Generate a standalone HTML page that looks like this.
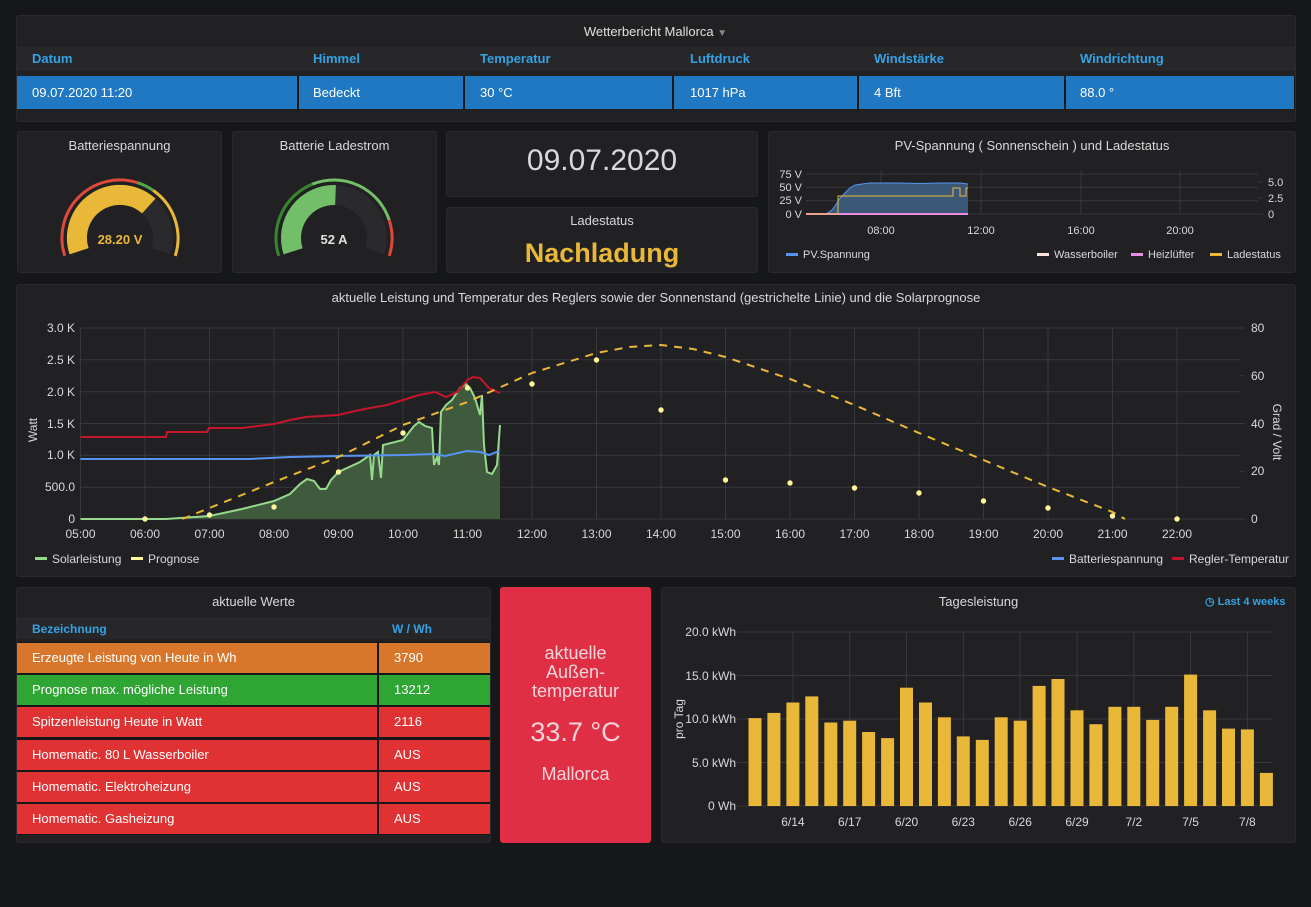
<!DOCTYPE html>
<html><head><meta charset="utf-8"><style>
*{margin:0;padding:0;box-sizing:border-box}
body{width:1311px;height:907px;background:#161719;font-family:"Liberation Sans",sans-serif;color:#d8d9da;position:relative;overflow:hidden}
.p{position:absolute;background:#212124;border:1px solid #2a2a2e;border-radius:3px}
.t{position:absolute;font-size:13px;white-space:nowrap}
.c{position:absolute;overflow:hidden;white-space:nowrap;font-size:13px;padding-left:15px}
svg{position:absolute;left:0;top:0}
</style></head><body>
<div class="p" style="left:16px;top:15px;width:1280px;height:107px"></div>
<div class="p" style="left:17px;top:131px;width:205px;height:142px"></div>
<div class="p" style="left:232px;top:131px;width:205px;height:142px"></div>
<div class="p" style="left:446px;top:131px;width:312px;height:66px"></div>
<div class="p" style="left:446px;top:207px;width:312px;height:66px"></div>
<div class="p" style="left:768px;top:131px;width:528px;height:142px"></div>
<div class="p" style="left:16px;top:284px;width:1280px;height:293px"></div>
<div class="p" style="left:16px;top:587px;width:475px;height:256px"></div>
<div class="p" style="left:500px;top:587px;width:151px;height:256px;background:#e02f44;border-color:#e02f44"></div>
<div class="p" style="left:661px;top:587px;width:635px;height:256px"></div>

<div class="t" style="left:0;width:1311px;top:24px;text-align:center;font-size:13px;color:#e0e0e0">Wetterbericht Mallorca <span style="color:#888;font-size:10px">▼</span></div>
<div style="position:absolute;left:17px;top:47px;width:1278px;height:24px;background:#27272a"></div>
<div style="position:absolute;left:17px;top:76px;width:1278px;height:33px;background:#161719"></div>
<div style="position:absolute;left:17px;top:76px;width:280px;height:33px;background:#1f78c1"></div>
<div style="position:absolute;left:299px;top:76px;width:164px;height:33px;background:#1f78c1"></div>
<div style="position:absolute;left:465px;top:76px;width:207px;height:33px;background:#1f78c1"></div>
<div style="position:absolute;left:674px;top:76px;width:183px;height:33px;background:#1f78c1"></div>
<div style="position:absolute;left:859px;top:76px;width:205px;height:33px;background:#1f78c1"></div>
<div style="position:absolute;left:1066px;top:76px;width:228px;height:33px;background:#1f78c1"></div>
<div class="t" style="left:32px;top:51px;color:#33a2e5;font-weight:bold">Datum</div>
<div class="t" style="left:313px;top:51px;color:#33a2e5;font-weight:bold">Himmel</div>
<div class="t" style="left:480px;top:51px;color:#33a2e5;font-weight:bold">Temperatur</div>
<div class="t" style="left:690px;top:51px;color:#33a2e5;font-weight:bold">Luftdruck</div>
<div class="t" style="left:874px;top:51px;color:#33a2e5;font-weight:bold">Windstärke</div>
<div class="t" style="left:1080px;top:51px;color:#33a2e5;font-weight:bold">Windrichtung</div>
<div class="t" style="left:32px;top:85px;color:#fff">09.07.2020 11:20</div>
<div class="t" style="left:313px;top:85px;color:#fff">Bedeckt</div>
<div class="t" style="left:480px;top:85px;color:#fff">30 °C</div>
<div class="t" style="left:690px;top:85px;color:#fff">1017 hPa</div>
<div class="t" style="left:874px;top:85px;color:#fff">4 Bft</div>
<div class="t" style="left:1080px;top:85px;color:#fff">88.0 °</div>

<div class="t" style="left:17px;width:205px;top:138px;text-align:center">Batteriespannung</div>
<div class="t" style="left:232px;width:205px;top:138px;text-align:center">Batterie Ladestrom</div>
<div class="t" style="left:446px;width:312px;top:144px;text-align:center;font-size:30px;color:#d8d9da">09.07.2020</div>
<div class="t" style="left:446px;width:312px;top:213px;text-align:center;font-size:13px">Ladestatus</div>
<div class="t" style="left:446px;width:312px;top:238px;text-align:center;font-size:27px;color:#eab839;font-weight:bold">Nachladung</div>
<div class="t" style="left:768px;width:528px;top:138px;text-align:center">PV-Spannung ( Sonnenschein ) und Ladestatus</div>
<div class="t" style="left:16px;width:1280px;top:290px;text-align:center">aktuelle Leistung und Temperatur des Reglers sowie der Sonnenstand (gestrichelte Linie) und die Solarprognose</div>

<div class="t" style="left:16px;width:475px;top:594px;text-align:center">aktuelle Werte</div>
<div style="position:absolute;left:17px;top:617px;width:473px;height:22px;background:#27272a"></div>
<div class="t" style="left:32px;top:622px;color:#33a2e5;font-weight:bold;font-size:12px">Bezeichnung</div>
<div class="t" style="left:392px;top:622px;color:#33a2e5;font-weight:bold;font-size:12px">W / Wh</div>
<div style="position:absolute;left:17px;top:642px;width:473px;height:193px;background:#161719"></div>
<div class="c" style="left:17px;top:643px;width:360px;height:30px;line-height:30px;background:#d8772c;color:#fff">Erzeugte Leistung von Heute in Wh</div>
<div class="c" style="left:379px;top:643px;width:111px;height:30px;line-height:30px;background:#d8772c;color:#fff">3790</div>
<div class="c" style="left:17px;top:675px;width:360px;height:30px;line-height:30px;background:#2fa633;color:#fff">Prognose max. mögliche Leistung</div>
<div class="c" style="left:379px;top:675px;width:111px;height:30px;line-height:30px;background:#2fa633;color:#fff">13212</div>
<div class="c" style="left:17px;top:707px;width:360px;height:30px;line-height:30px;background:#e03232;color:#fff">Spitzenleistung Heute in Watt</div>
<div class="c" style="left:379px;top:707px;width:111px;height:30px;line-height:30px;background:#e03232;color:#fff">2116</div>
<div class="c" style="left:17px;top:740px;width:360px;height:30px;line-height:30px;background:#e03232;color:#fff">Homematic. 80 L Wasserboiler</div>
<div class="c" style="left:379px;top:740px;width:111px;height:30px;line-height:30px;background:#e03232;color:#fff">AUS</div>
<div class="c" style="left:17px;top:772px;width:360px;height:30px;line-height:30px;background:#e03232;color:#fff">Homematic. Elektroheizung</div>
<div class="c" style="left:379px;top:772px;width:111px;height:30px;line-height:30px;background:#e03232;color:#fff">AUS</div>
<div class="c" style="left:17px;top:804px;width:360px;height:30px;line-height:30px;background:#e03232;color:#fff">Homematic. Gasheizung</div>
<div class="c" style="left:379px;top:804px;width:111px;height:30px;line-height:30px;background:#e03232;color:#fff">AUS</div>

<div class="t" style="left:500px;width:151px;top:644px;text-align:center;font-size:18px;line-height:19px;color:#f4d5da;white-space:normal">aktuelle<br>Außen-<br>temperatur</div>
<div class="t" style="left:500px;width:151px;top:717px;text-align:center;font-size:27px;color:#f4d5da">33.7 °C</div>
<div class="t" style="left:500px;width:151px;top:764px;text-align:center;font-size:18px;color:#f4d5da">Mallorca</div>

<div class="t" style="left:661px;width:635px;top:594px;text-align:center">Tagesleistung</div>
<div class="t" style="left:1205px;top:595px;color:#33a2e5;font-size:11px;font-weight:bold">◷ Last 4 weeks</div>

<svg width="1311" height="907" font-family="Liberation Sans, sans-serif" font-size="12" fill="#d8d9da">
<g fill="none">
<path d="M79.1,251.3 A43,43 0 1 1 160.9,251.3" stroke="#2a2a2c" stroke-width="20"/>
<path d="M79.1,251.3 A43,43 0 0 1 148.8,206" stroke="#eab839" stroke-width="20"/>
<path d="M64.8,255.9 A58,58 0 0 1 137.9,182.8" stroke="#e0483c" stroke-width="3"/>
<path d="M137.9,182.8 A58,58 0 0 1 153.3,190.5" stroke="#56a64b" stroke-width="3"/>
<path d="M153.3,190.5 A58,58 0 0 1 175.2,255.9" stroke="#eab839" stroke-width="3"/>
<path d="M293.1,251.3 A43,43 0 1 1 374.9,251.3" stroke="#2a2a2c" stroke-width="20"/>
<path d="M293.1,251.3 A43,43 0 0 1 335.5,195" stroke="#73bf69" stroke-width="20"/>
<path d="M278.8,255.9 A58,58 0 0 1 312.3,184.2" stroke="#37872d" stroke-width="3"/>
<path d="M312.3,184.2 A58,58 0 0 1 389.2,220.1" stroke="#73bf69" stroke-width="3"/>
<path d="M389.2,220.1 A58,58 0 0 1 389.2,255.9" stroke="#e0483c" stroke-width="3"/>
</g>
<text x="120" y="244" text-anchor="middle" font-size="13" font-weight="bold" fill="#eab839">28.20 V</text>
<text x="334" y="244" text-anchor="middle" font-size="13" font-weight="bold" fill="#e0e0e0">52 A</text>

<g stroke="#38383c" stroke-width="1">
<line x1="806" y1="174" x2="1258" y2="174"/><line x1="806" y1="187.3" x2="1258" y2="187.3"/><line x1="806" y1="200.7" x2="1258" y2="200.7"/><line x1="806" y1="214" x2="1258" y2="214"/>
<line x1="881" y1="170" x2="881" y2="214"/><line x1="981" y1="170" x2="981" y2="214"/><line x1="1081" y1="170" x2="1081" y2="214"/><line x1="1180" y1="170" x2="1180" y2="214"/>
<line x1="1258" y1="182" x2="1263" y2="182"/><line x1="1258" y1="198" x2="1263" y2="198"/><line x1="1258" y1="214" x2="1263" y2="214"/>
</g>
<g font-size="11" text-anchor="end"><text x="802" y="178">75 V</text><text x="802" y="191">50 V</text><text x="802" y="204">25 V</text><text x="802" y="218">0 V</text></g>
<g font-size="11"><text x="1268" y="186">5.0</text><text x="1268" y="202">2.5</text><text x="1268" y="218">0</text></g>
<g font-size="11" text-anchor="middle"><text x="881" y="234">08:00</text><text x="981" y="234">12:00</text><text x="1081" y="234">16:00</text><text x="1180" y="234">20:00</text></g>
<polygon points="806,214 826,214 832,210 837,203 840,198 845,193 850,188 855,185 862,184 870,183 900,183 920,183.5 940,183 960,183 968,184 968,214" fill="#3c5877" stroke="none"/>
<polyline points="826,214 832,210 837,203 840,198 845,193 850,188 855,185 862,184 870,183 900,183 920,183.5 940,183 960,183 968,184" fill="none" stroke="#5794f2" stroke-width="1"/>
<line x1="806" y1="214" x2="968" y2="214" stroke="#e98ee4" stroke-width="2"/>
<polyline points="806,214 838,214 838,196 953,196 953,188 960,188 960,196 966,196 966,188 968,188" fill="none" stroke="#eab839" stroke-width="1"/>
<g font-size="11"><rect x="786" y="253" width="12" height="3" fill="#5794f2"/><text x="803" y="258">PV.Spannung</text>
<rect x="1037" y="253" width="12" height="3" fill="#fce2de"/><text x="1054" y="258">Wasserboiler</text>
<rect x="1131" y="253" width="12" height="3" fill="#e98ee4"/><text x="1148" y="258">Heizlüfter</text>
<rect x="1210" y="253" width="12" height="3" fill="#eab839"/><text x="1227" y="258">Ladestatus</text></g>

<g stroke="#38383c" stroke-width="1">
<line x1="80.5" y1="328" x2="1240" y2="328"/><line x1="80.5" y1="359.8" x2="1240" y2="359.8"/><line x1="80.5" y1="391.7" x2="1240" y2="391.7"/><line x1="80.5" y1="423.5" x2="1240" y2="423.5"/><line x1="80.5" y1="455.3" x2="1240" y2="455.3"/><line x1="80.5" y1="487.2" x2="1240" y2="487.2"/><line x1="80.5" y1="519" x2="1240" y2="519"/>
<line x1="80.5" y1="328" x2="80.5" y2="519"/><line x1="145" y1="328" x2="145" y2="519"/><line x1="209.5" y1="328" x2="209.5" y2="519"/><line x1="274" y1="328" x2="274" y2="519"/><line x1="338.5" y1="328" x2="338.5" y2="519"/><line x1="403" y1="328" x2="403" y2="519"/><line x1="467.5" y1="328" x2="467.5" y2="519"/><line x1="532" y1="328" x2="532" y2="519"/><line x1="596.5" y1="328" x2="596.5" y2="519"/><line x1="661" y1="328" x2="661" y2="519"/><line x1="725.5" y1="328" x2="725.5" y2="519"/><line x1="790" y1="328" x2="790" y2="519"/><line x1="854.5" y1="328" x2="854.5" y2="519"/><line x1="919" y1="328" x2="919" y2="519"/><line x1="983.5" y1="328" x2="983.5" y2="519"/><line x1="1048" y1="328" x2="1048" y2="519"/><line x1="1112.5" y1="328" x2="1112.5" y2="519"/><line x1="1177" y1="328" x2="1177" y2="519"/>
<line x1="1240" y1="328" x2="1245" y2="328"/><line x1="1240" y1="375.75" x2="1245" y2="375.75"/><line x1="1240" y1="423.5" x2="1245" y2="423.5"/><line x1="1240" y1="471.25" x2="1245" y2="471.25"/><line x1="1240" y1="519" x2="1245" y2="519"/>
</g>
<g text-anchor="end"><text x="75" y="332">3.0 K</text><text x="75" y="364">2.5 K</text><text x="75" y="396">2.0 K</text><text x="75" y="428">1.5 K</text><text x="75" y="459">1.0 K</text><text x="75" y="491">500.0</text><text x="75" y="523">0</text></g>
<g><text x="1251" y="332">80</text><text x="1251" y="380">60</text><text x="1251" y="428">40</text><text x="1251" y="475">20</text><text x="1251" y="523">0</text></g>
<text transform="translate(37,430) rotate(-90)" text-anchor="middle">Watt</text>
<text transform="translate(1273,432) rotate(90)" text-anchor="middle">Grad / Volt</text>
<g text-anchor="middle"><text x="80.5" y="538">05:00</text><text x="145" y="538">06:00</text><text x="209.5" y="538">07:00</text><text x="274" y="538">08:00</text><text x="338.5" y="538">09:00</text><text x="403" y="538">10:00</text><text x="467.5" y="538">11:00</text><text x="532" y="538">12:00</text><text x="596.5" y="538">13:00</text><text x="661" y="538">14:00</text><text x="725.5" y="538">15:00</text><text x="790" y="538">16:00</text><text x="854.5" y="538">17:00</text><text x="919" y="538">18:00</text><text x="983.5" y="538">19:00</text><text x="1048" y="538">20:00</text><text x="1112.5" y="538">21:00</text><text x="1177" y="538">22:00</text></g>
<polygon points="80.5,519 166,519 209.5,516 242,509 274,501 290,494 300,484 307,479 314,481 320,489 326,489 331,480 338.5,472 360,462 370,455 372,480 374,455 378,452 381,478 383,445 403,440 414,426 419,422 425,426 432,428 434,465 437,457 439,465 441,412 446,405 452,400 460,388 466,384 470,388 475,398 480,415 482,395 484,445 487,472 492,474 497,465 500,425 500,519" fill="#3f5a3c"/>
<polyline points="80.5,519 166,519 209.5,516 242,509 274,501 290,494 300,484 307,479 314,481 320,489 326,489 331,480 338.5,472 360,462 370,455 372,480 374,455 378,452 381,478 383,445 403,440 414,426 419,422 425,426 432,428 434,465 437,457 439,465 441,412 446,405 452,400 460,388 466,384 470,388 475,398 480,415 482,395 484,445 487,472 492,474 497,465 500,425" fill="none" stroke="#96d98d" stroke-width="2"/>
<polyline points="80.5,437 166,437 167,432 207,432 209,428 242,428 274,424 290,420 306,417 338.5,415 355,411 370,408 387,405 403,400 419,395 435,392 446,397 457,392 467.5,380 473,377 480,378 489,388 500,393" fill="none" stroke="#c4162a" stroke-width="2"/>
<polyline points="80.5,459 250,459 290,457 338,456 403,455 435,454 445,456 467,451 480,452 489,455 499,451" fill="none" stroke="#5794f2" stroke-width="2"/>
<polyline points="182.4,519 209.5,508 274,482 338.5,457 403,425 467.5,402 532,373 596.5,353 629,347 661,345 693,349 725.5,357 790,379 854.5,405 919,433 983.5,460 1048,487 1112.5,512 1125,519" fill="none" stroke="#eab839" stroke-width="2" stroke-dasharray="8,7"/>
<g fill="#fff59a"><circle cx="145" cy="519" r="2.7"/><circle cx="209.5" cy="515" r="2.7"/><circle cx="274" cy="507" r="2.7"/><circle cx="338.5" cy="472" r="2.7"/><circle cx="403" cy="433" r="2.7"/><circle cx="467.5" cy="388" r="2.7"/><circle cx="532" cy="384" r="2.7"/><circle cx="596.5" cy="360" r="2.7"/><circle cx="661" cy="410" r="2.7"/><circle cx="725.5" cy="480" r="2.7"/><circle cx="790" cy="483" r="2.7"/><circle cx="854.5" cy="488" r="2.7"/><circle cx="919" cy="493" r="2.7"/><circle cx="983.5" cy="501" r="2.7"/><circle cx="1048" cy="508" r="2.7"/><circle cx="1112.5" cy="516" r="2.7"/><circle cx="1177" cy="519" r="2.7"/></g>
<rect x="35" y="557" width="12" height="3" fill="#96d98d"/><text x="52" y="563">Solarleistung</text>
<rect x="131" y="557" width="12" height="3" fill="#fff59a"/><text x="148" y="563">Prognose</text>
<rect x="1052" y="557" width="12" height="3" fill="#5794f2"/><text x="1069" y="563">Batteriespannung</text>
<rect x="1172" y="557" width="12" height="3" fill="#c4162a"/><text x="1189" y="563">Regler-Temperatur</text>

<g stroke="#38383c" stroke-width="1">
<line x1="737" y1="632" x2="1273" y2="632"/><line x1="737" y1="675.5" x2="1273" y2="675.5"/><line x1="737" y1="719" x2="1273" y2="719"/><line x1="737" y1="762.5" x2="1273" y2="762.5"/><line x1="737" y1="806" x2="1273" y2="806"/>
<line x1="792.9" y1="632" x2="792.9" y2="806"/><line x1="849.7" y1="632" x2="849.7" y2="806"/><line x1="906.5" y1="632" x2="906.5" y2="806"/><line x1="963.3" y1="632" x2="963.3" y2="806"/><line x1="1020.2" y1="632" x2="1020.2" y2="806"/><line x1="1077" y1="632" x2="1077" y2="806"/><line x1="1133.8" y1="632" x2="1133.8" y2="806"/><line x1="1190.6" y1="632" x2="1190.6" y2="806"/><line x1="1247.4" y1="632" x2="1247.4" y2="806"/>
</g>
<g text-anchor="end"><text x="736" y="636">20.0 kWh</text><text x="736" y="680">15.0 kWh</text><text x="736" y="723">10.0 kWh</text><text x="736" y="767">5.0 kWh</text><text x="736" y="810">0 Wh</text></g>
<text transform="translate(683,719) rotate(-90)" text-anchor="middle">pro Tag</text>
<g text-anchor="middle"><text x="792.9" y="826">6/14</text><text x="849.7" y="826">6/17</text><text x="906.5" y="826">6/20</text><text x="963.3" y="826">6/23</text><text x="1020.2" y="826">6/26</text><text x="1077" y="826">6/29</text><text x="1133.8" y="826">7/2</text><text x="1190.6" y="826">7/5</text><text x="1247.4" y="826">7/8</text></g>
<g fill="#eab839">
<rect x="748.5" y="718.1" width="13" height="87.9"/><rect x="767.4" y="712.9" width="13" height="93.1"/><rect x="786.4" y="702.5" width="13" height="103.5"/><rect x="805.3" y="696.4" width="13" height="109.6"/><rect x="824.3" y="722.5" width="13" height="83.5"/><rect x="843.2" y="720.7" width="13" height="85.3"/><rect x="862.1" y="732" width="13" height="74"/><rect x="881.1" y="738.1" width="13" height="67.9"/><rect x="900" y="687.7" width="13" height="118.3"/><rect x="919" y="702.5" width="13" height="103.5"/><rect x="937.9" y="717.3" width="13" height="88.7"/><rect x="956.8" y="736.4" width="13" height="69.6"/><rect x="975.8" y="739.9" width="13" height="66.1"/><rect x="994.7" y="717.3" width="13" height="88.7"/><rect x="1013.7" y="720.7" width="13" height="85.3"/><rect x="1032.6" y="685.9" width="13" height="120.1"/><rect x="1051.5" y="679" width="13" height="127"/><rect x="1070.5" y="710.3" width="13" height="95.7"/><rect x="1089.4" y="724.2" width="13" height="81.8"/><rect x="1108.4" y="706.8" width="13" height="99.2"/><rect x="1127.3" y="706.8" width="13" height="99.2"/><rect x="1146.2" y="719.9" width="13" height="86.1"/><rect x="1165.2" y="706.8" width="13" height="99.2"/><rect x="1184.1" y="674.6" width="13" height="131.4"/><rect x="1203.1" y="710.3" width="13" height="95.7"/><rect x="1222" y="728.6" width="13" height="77.4"/><rect x="1240.9" y="729.4" width="13" height="76.6"/><rect x="1259.9" y="772.9" width="13" height="33.1"/>
</g>
</svg>
</body></html>
